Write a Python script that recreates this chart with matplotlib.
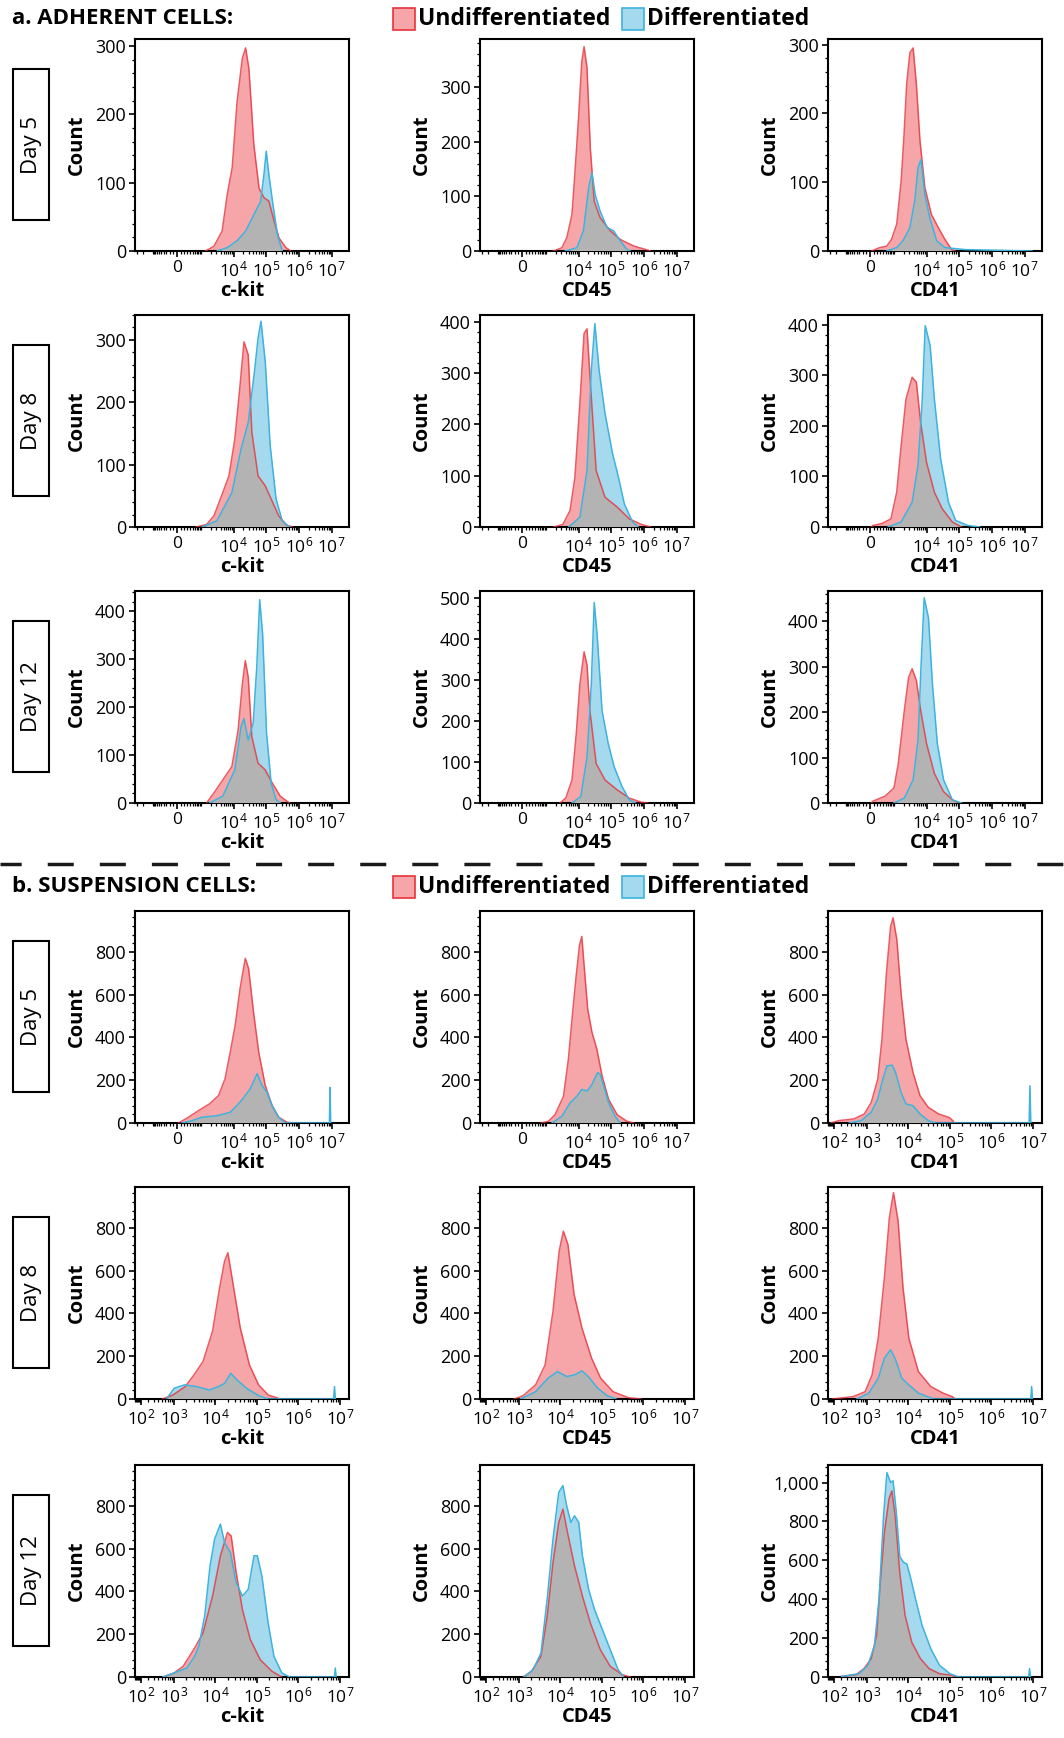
import numpy as np
import matplotlib
matplotlib.use("Agg")
import matplotlib.pyplot as plt
from matplotlib.patches import Rectangle
from matplotlib.lines import Line2D
from matplotlib.ticker import MultipleLocator, AutoMinorLocator, FuncFormatter

plt.rcParams['font.family'] = ['Open Sans', 'DejaVu Sans']
plt.rcParams['mathtext.fontset'] = 'custom'
plt.rcParams['mathtext.rm'] = 'Open Sans'
plt.rcParams['mathtext.bf'] = 'Open Sans:bold'

# x values are log10 of fluorescence intensity, y values are event counts
# ---- a. adherent cells ----
a_d5_ckit_und_x = [3.14, 3.40, 3.65, 3.81, 3.96, 4.11, 4.27, 4.37, 4.47, 4.62, 4.78, 4.93, 5.08, 5.24, 5.39, 5.60, 5.75]
a_d5_ckit_und_y = [0, 7, 29, 83, 122, 219, 282, 297, 267, 156, 92, 78, 73, 44, 19, 5, 0]
a_d5_ckit_dif_x = [3.50, 3.81, 4.11, 4.37, 4.62, 4.83, 4.93, 5.00, 5.08, 5.19, 5.34, 5.49]
a_d5_ckit_dif_y = [0, 5, 15, 29, 53, 73, 112, 146, 112, 73, 24, 0]

a_d5_cd45_und_x = [3.23, 3.49, 3.64, 3.80, 3.90, 4.00, 4.10, 4.17, 4.26, 4.36, 4.48, 4.66, 4.97, 5.28, 5.69, 6.04, 6.20]
a_d5_cd45_und_y = [0, 6, 24, 67, 152, 243, 347, 374, 335, 189, 91, 61, 37, 21, 9, 3, 0]
a_d5_cd45_dif_x = [3.59, 3.95, 4.15, 4.31, 4.41, 4.51, 4.66, 4.87, 5.07, 5.28, 5.48, 5.58]
a_d5_cd45_dif_y = [0, 6, 37, 116, 143, 103, 73, 43, 37, 18, 3, 0]

a_d5_cd41_und_x = [1.64, 2.45, 2.74, 2.91, 3.08, 3.22, 3.31, 3.39, 3.49, 3.59, 3.69, 3.80, 3.95, 4.15, 4.36, 4.56, 4.77, 4.87]
a_d5_cd41_und_y = [0, 5, 7, 17, 39, 102, 169, 242, 288, 295, 242, 160, 92, 53, 34, 17, 2, 0]
a_d5_cd41_dif_x = [2.74, 3.08, 3.28, 3.49, 3.64, 3.74, 3.83, 3.95, 4.10, 4.31, 4.56, 5.18, 6.20, 7.22]
a_d5_cd41_dif_y = [0, 5, 15, 34, 73, 121, 133, 82, 48, 15, 5, 2, 1, 0]

a_d8_ckit_und_x = [2.83, 3.17, 3.40, 3.67, 3.86, 4.04, 4.19, 4.32, 4.45, 4.56, 4.75, 4.97, 5.15, 5.38, 5.62, 5.80]
a_d8_ckit_und_y = [0, 4, 18, 55, 82, 141, 222, 297, 276, 152, 82, 66, 45, 18, 3, 0]
a_d8_ckit_dif_x = [3.03, 3.49, 3.95, 4.23, 4.45, 4.64, 4.75, 4.84, 4.97, 5.12, 5.30, 5.49, 5.71]
a_d8_ckit_dif_y = [0, 10, 55, 125, 168, 249, 303, 330, 265, 131, 45, 10, 0]

a_d8_cd45_und_x = [3.24, 3.52, 3.74, 3.89, 4.04, 4.17, 4.26, 4.37, 4.54, 4.81, 5.18, 5.55, 5.92, 6.20]
a_d8_cd45_und_y = [0, 5, 32, 97, 240, 377, 386, 273, 110, 58, 39, 16, 5, 0]
a_d8_cd45_dif_x = [3.70, 4.04, 4.26, 4.39, 4.50, 4.63, 4.81, 5.04, 5.22, 5.40, 5.65, 5.83]
a_d8_cd45_dif_y = [0, 19, 110, 305, 396, 305, 221, 143, 97, 45, 10, 0]

a_d8_cd41_und_x = [1.6, 1.9, 2.55, 2.89, 3.08, 3.22, 3.37, 3.56, 3.69, 3.82, 4.00, 4.24, 4.48, 4.79, 5.07]
a_d8_cd41_und_y = [0, 3, 7, 16, 69, 161, 253, 296, 286, 207, 128, 69, 36, 10, 0]
a_d8_cd41_dif_x = [2.79, 3.22, 3.56, 3.74, 3.87, 3.96, 4.11, 4.24, 4.43, 4.67, 4.89, 5.26, 5.63]
a_d8_cd41_dif_y = [0, 10, 49, 122, 253, 398, 359, 253, 135, 49, 13, 3, 0]

a_d12_ckit_und_x = [3.17, 3.40, 3.67, 3.95, 4.14, 4.27, 4.36, 4.45, 4.56, 4.75, 4.97, 5.19, 5.43, 5.71]
a_d12_ckit_und_y = [0, 21, 48, 76, 152, 248, 297, 262, 138, 83, 69, 41, 14, 0]
a_d12_ckit_dif_x = [3.26, 3.67, 4.04, 4.23, 4.32, 4.45, 4.60, 4.71, 4.80, 4.89, 5.01, 5.15, 5.30, 5.43]
a_d12_ckit_dif_y = [0, 14, 69, 159, 176, 131, 166, 283, 424, 352, 145, 41, 7, 0]

a_d12_cd45_und_x = [3.43, 3.61, 3.80, 3.93, 4.04, 4.17, 4.26, 4.35, 4.54, 4.81, 5.18, 5.55, 5.92, 6.11]
a_d12_cd45_und_y = [0, 12, 56, 168, 288, 368, 336, 224, 96, 56, 32, 12, 2, 0]
a_d12_cd45_dif_x = [3.80, 4.07, 4.26, 4.39, 4.48, 4.57, 4.72, 4.91, 5.09, 5.33, 5.55, 5.74]
a_d12_cd45_dif_y = [0, 16, 112, 288, 488, 408, 224, 144, 88, 40, 8, 0]

a_d12_cd41_und_x = [1.6, 1.9, 2.68, 2.99, 3.13, 3.32, 3.45, 3.56, 3.69, 3.82, 4.00, 4.24, 4.52, 4.79, 4.98]
a_d12_cd41_und_y = [0, 4, 15, 33, 87, 204, 276, 295, 269, 204, 131, 65, 25, 7, 0]
a_d12_cd41_dif_x = [2.99, 3.32, 3.59, 3.74, 3.83, 3.93, 4.06, 4.18, 4.33, 4.52, 4.79, 5.07]
a_d12_cd41_dif_y = [0, 11, 51, 138, 298, 451, 407, 262, 131, 51, 7, 0]

# ---- b. suspension cells ----
b_d5_ckit_und_x = [1.64, 2.53, 2.91, 3.26, 3.54, 3.74, 3.90, 4.05, 4.20, 4.36, 4.46, 4.61, 4.77, 4.97, 5.18, 5.38, 5.64, 5.84]
b_d5_ckit_und_y = [0, 27, 58, 89, 128, 206, 331, 456, 628, 769, 722, 519, 331, 175, 81, 27, 3, 0]
b_d5_ckit_dif_x = [2.13, 2.68, 3.02, 3.49, 3.90, 4.20, 4.51, 4.72, 4.87, 5.02, 5.18, 5.38, 5.58, 6.93, 6.95, 6.97]
b_d5_ckit_dif_y = [0, 11, 27, 34, 50, 97, 159, 230, 175, 144, 81, 27, 0, 0, 166, 0]

b_d5_cd45_und_x = [2.83, 3.07, 3.28, 3.54, 3.69, 3.83, 3.93, 4.03, 4.10, 4.17, 4.28, 4.41, 4.56, 4.72, 4.92, 5.18, 5.48, 5.69]
b_d5_cd45_und_y = [0, 8, 39, 125, 298, 533, 690, 831, 871, 737, 533, 424, 345, 220, 110, 39, 8, 0]
b_d5_cd45_dif_x = [3.18, 3.49, 3.74, 3.95, 4.10, 4.26, 4.41, 4.58, 4.66, 4.77, 4.92, 5.12, 5.28]
b_d5_cd45_dif_y = [0, 31, 94, 125, 157, 149, 180, 235, 227, 173, 94, 31, 0]

b_d5_cd41_und_x = [1.8, 2.2, 2.66, 2.93, 3.10, 3.26, 3.36, 3.47, 3.57, 3.63, 3.72, 3.82, 3.94, 4.11, 4.28, 4.48, 4.73, 4.98, 5.07, 5.11]
b_d5_cd41_und_y = [0, 11, 19, 42, 96, 205, 391, 702, 919, 958, 857, 609, 391, 236, 127, 73, 42, 26, 11, 0]
b_d5_cd41_dif_x = [2.54, 2.85, 3.10, 3.26, 3.36, 3.48, 3.61, 3.69, 3.82, 3.94, 4.11, 4.28, 4.48, 4.65, 6.91, 6.93, 6.95]
b_d5_cd41_dif_y = [0, 11, 50, 112, 189, 267, 270, 236, 143, 89, 81, 42, 11, 0, 0, 174, 0]

b_d8_ckit_und_x = [2.71, 2.97, 3.27, 3.48, 3.70, 3.93, 4.10, 4.22, 4.30, 4.40, 4.60, 4.82, 5.04, 5.27, 5.57]
b_d8_ckit_und_y = [0, 19, 58, 112, 175, 316, 519, 644, 683, 566, 331, 159, 66, 19, 0]
b_d8_ckit_dif_x = [2.81, 3.00, 3.25, 3.55, 3.85, 4.07, 4.22, 4.37, 4.52, 4.75, 5.04, 5.27, 6.85, 6.87, 6.89]
b_d8_ckit_dif_y = [0, 50, 66, 58, 42, 58, 73, 120, 89, 50, 16, 0, 0, 58, 0]

b_d8_cd45_und_x = [2.88, 3.10, 3.40, 3.63, 3.82, 3.97, 4.07, 4.18, 4.33, 4.52, 4.75, 4.97, 5.27, 5.64, 5.94]
b_d8_cd45_und_y = [0, 16, 66, 159, 409, 691, 784, 722, 488, 331, 191, 97, 34, 6, 0]
b_d8_cd45_dif_x = [3.03, 3.40, 3.70, 3.93, 4.15, 4.33, 4.52, 4.67, 4.90, 5.12, 5.34]
b_d8_cd45_dif_y = [0, 34, 97, 128, 105, 112, 131, 105, 50, 16, 0]

b_d8_cd41_und_x = [1.89, 2.64, 2.95, 3.12, 3.27, 3.42, 3.54, 3.64, 3.75, 3.87, 4.01, 4.24, 4.54, 4.84, 5.06, 5.13]
b_d8_cd41_und_y = [0, 11, 34, 112, 284, 566, 847, 964, 831, 519, 284, 128, 58, 27, 11, 0]
b_d8_cd41_dif_x = [2.74, 3.04, 3.27, 3.42, 3.57, 3.69, 3.84, 4.01, 4.24, 4.46, 4.61, 6.95, 6.97, 6.99]
b_d8_cd41_dif_y = [0, 27, 97, 191, 230, 183, 97, 66, 27, 11, 0, 0, 58, 0]

b_d12_ckit_und_x = [2.72, 3.00, 3.22, 3.50, 3.70, 3.93, 4.12, 4.29, 4.38, 4.50, 4.65, 4.84, 5.08, 5.36, 5.60]
b_d12_ckit_und_y = [0, 19, 50, 136, 206, 378, 566, 675, 659, 488, 316, 175, 81, 27, 0]
b_d12_ckit_dif_x = [2.72, 3.00, 3.31, 3.50, 3.60, 3.74, 3.87, 3.98, 4.12, 4.22, 4.36, 4.50, 4.65, 4.79, 4.93,
                    5.01, 5.12, 5.27, 5.41, 5.60, 5.79, 6.87, 6.89, 6.91]
b_d12_ckit_dif_y = [0, 19, 42, 97, 144, 284, 519, 644, 714, 628, 581, 441, 378, 409, 566,
                    566, 472, 253, 97, 19, 0, 0, 42, 0]

b_d12_cd45_und_x = [3.10, 3.30, 3.53, 3.68, 3.82, 3.96, 4.06, 4.17, 4.34, 4.53, 4.72, 4.96, 5.20, 5.49, 5.68]
b_d12_cd45_und_y = [0, 27, 97, 284, 534, 722, 784, 675, 519, 378, 253, 128, 50, 11, 0]
b_d12_cd45_dif_x = [3.12, 3.34, 3.53, 3.68, 3.82, 3.96, 4.06, 4.15, 4.25, 4.34, 4.44, 4.53, 4.68, 4.82, 5.01, 5.20, 5.39, 5.53]
b_d12_cd45_dif_y = [0, 34, 112, 363, 644, 863, 894, 800, 722, 753, 722, 566, 409, 316, 222, 128, 34, 0]

b_d12_cd41_und_x = [2.31, 2.72, 2.92, 3.10, 3.23, 3.32, 3.42, 3.53, 3.60, 3.68, 3.79, 3.92, 4.08, 4.29, 4.50, 4.75, 5.04, 5.13]
b_d12_cd41_und_y = [3, 12, 43, 94, 214, 487, 744, 915, 957, 829, 538, 316, 179, 94, 43, 17, 9, 0]
b_d12_cd41_dif_x = [2.31, 2.80, 3.02, 3.18, 3.29, 3.40, 3.48, 3.57, 3.63, 3.71, 3.79, 3.88, 3.96, 4.04, 4.17,
                    4.33, 4.54, 4.75, 5.00, 5.21, 6.90, 6.92, 6.94]
b_d12_cd41_dif_y = [3, 17, 60, 162, 402, 829, 1051, 1000, 1009, 840, 620, 590, 581, 521, 402,
                    265, 145, 60, 17, 0, 0, 43, 0]

days = ['Day 5', 'Day 8', 'Day 12']
markers = ['c-kit', 'CD45', 'CD41']
a_ytop = [[310, 388, 308], [340, 413, 419], [442, 516, 466]]
b_ytop = [[990, 990, 990], [990, 990, 990], [990, 990, 1090]]

PINK = '#f6a6a9'
LBLUE = '#a5d9ed'
GREY = '#b3b3b3'
RED = '#e8323c'
BLUE = '#3db3de'

LN10 = np.log(10)


def scale_funcs(c):
    # arcsinh display, like the biexponential axes of flow software
    return (lambda x: np.arcsinh(np.asarray(x, float) / c) / LN10,
            lambda p: c * np.sinh(np.asarray(p, float) * LN10))


W, H = 1064, 1738
fig = plt.figure(figsize=(W / 100, H / 100), dpi=100)
col_left = [135, 480, 828]
row_top = [39, 315, 591, 911, 1187, 1465]
AW, AH = 214, 212


def draw_panel(r, c, und_x, und_y, dif_x, dif_y, ytop, ystep, kind):
    ax = fig.add_axes([col_left[c] / W, 1 - (row_top[r] + AH) / H, AW / W, AH / H])
    if kind == 'biex':
        ax.set_xscale('function', functions=scale_funcs(372))
        ax.set_xlim(-3534, 3.38e7)
        major = [0, 1e4, 1e5, 1e6, 1e7]
        labels = ['0'] + [r'$\mathregular{10^{%d}}$' % n for n in range(4, 8)]
        minor = [s * k * 10.0 ** n for s in (-1, 1) for n in range(2, 7) for k in range(1, 10)]
    else:
        ax.set_xscale('function', functions=scale_funcs(200))
        ax.set_xlim(28, 1.66e7)
        major = [10.0 ** n for n in range(2, 8)]
        labels = [r'$\mathregular{10^{%d}}$' % n for n in range(2, 8)]
        minor = [k * 10.0 ** n for n in range(1, 7) for k in range(2, 10)]
    lo, hi = ax.get_xlim()
    minor = [m for m in minor if lo < m < hi and m not in major]

    ux = 10.0 ** np.asarray(und_x)
    dx = 10.0 ** np.asarray(dif_x)
    red = ax.fill_between(ux, und_y, color=PINK, lw=0, zorder=1)
    ax.fill_between(dx, dif_y, color=LBLUE, lw=0, zorder=2)
    both = ax.fill_between(dx, dif_y, color=GREY, lw=0, zorder=3)
    both.set_clip_path(red.get_paths()[0], ax.transData)
    ax.plot(ux, und_y, color=RED, lw=1.1, alpha=0.8, zorder=4)
    ax.plot(dx, dif_y, color=BLUE, lw=1.1, zorder=5)

    ax.set_xticks(major, labels)
    ax.set_xticks(minor, minor=True)
    ax.set_ylim(0, ytop)
    ax.yaxis.set_major_locator(MultipleLocator(ystep))
    ax.yaxis.set_minor_locator(AutoMinorLocator(5))
    ax.yaxis.set_major_formatter(FuncFormatter(lambda v, p: '{:,.0f}'.format(v)))
    ax.tick_params(which='major', direction='out', length=4.5, width=1.2, pad=2)
    ax.tick_params(which='minor', direction='out', length=2.2, width=0.9)
    ax.tick_params(axis='x', labelsize=12.5)
    ax.tick_params(axis='y', labelsize=13)
    for sp in ax.spines.values():
        sp.set_linewidth(1.5)
    ax.set_xlabel(markers[c], fontsize=14.5, fontweight='bold')
    ax.xaxis.set_label_coords(0.5, -0.14)
    ax.set_ylabel('Count', fontsize=14.5, fontweight='bold')
    ax.yaxis.set_label_coords(-0.225, 0.5)
    return ax


a_panels = [
    [(a_d5_ckit_und_x, a_d5_ckit_und_y, a_d5_ckit_dif_x, a_d5_ckit_dif_y),
     (a_d5_cd45_und_x, a_d5_cd45_und_y, a_d5_cd45_dif_x, a_d5_cd45_dif_y),
     (a_d5_cd41_und_x, a_d5_cd41_und_y, a_d5_cd41_dif_x, a_d5_cd41_dif_y)],
    [(a_d8_ckit_und_x, a_d8_ckit_und_y, a_d8_ckit_dif_x, a_d8_ckit_dif_y),
     (a_d8_cd45_und_x, a_d8_cd45_und_y, a_d8_cd45_dif_x, a_d8_cd45_dif_y),
     (a_d8_cd41_und_x, a_d8_cd41_und_y, a_d8_cd41_dif_x, a_d8_cd41_dif_y)],
    [(a_d12_ckit_und_x, a_d12_ckit_und_y, a_d12_ckit_dif_x, a_d12_ckit_dif_y),
     (a_d12_cd45_und_x, a_d12_cd45_und_y, a_d12_cd45_dif_x, a_d12_cd45_dif_y),
     (a_d12_cd41_und_x, a_d12_cd41_und_y, a_d12_cd41_dif_x, a_d12_cd41_dif_y)],
]
b_panels = [
    [(b_d5_ckit_und_x, b_d5_ckit_und_y, b_d5_ckit_dif_x, b_d5_ckit_dif_y),
     (b_d5_cd45_und_x, b_d5_cd45_und_y, b_d5_cd45_dif_x, b_d5_cd45_dif_y),
     (b_d5_cd41_und_x, b_d5_cd41_und_y, b_d5_cd41_dif_x, b_d5_cd41_dif_y)],
    [(b_d8_ckit_und_x, b_d8_ckit_und_y, b_d8_ckit_dif_x, b_d8_ckit_dif_y),
     (b_d8_cd45_und_x, b_d8_cd45_und_y, b_d8_cd45_dif_x, b_d8_cd45_dif_y),
     (b_d8_cd41_und_x, b_d8_cd41_und_y, b_d8_cd41_dif_x, b_d8_cd41_dif_y)],
    [(b_d12_ckit_und_x, b_d12_ckit_und_y, b_d12_ckit_dif_x, b_d12_ckit_dif_y),
     (b_d12_cd45_und_x, b_d12_cd45_und_y, b_d12_cd45_dif_x, b_d12_cd45_dif_y),
     (b_d12_cd41_und_x, b_d12_cd41_und_y, b_d12_cd41_dif_x, b_d12_cd41_dif_y)],
]
b_kind = [['biex', 'biex', 'log'], ['log', 'log', 'log'], ['log', 'log', 'log']]

for i in range(3):
    for j in range(3):
        draw_panel(i, j, *a_panels[i][j], a_ytop[i][j], 100, 'biex')
        draw_panel(i + 3, j, *b_panels[i][j], b_ytop[i][j], 200, b_kind[i][j])

# row labels in boxes
for r in range(6):
    cy = row_top[r] + AH / 2
    fig.add_artist(Rectangle((13 / W, 1 - (cy + 75) / H), 36 / W, 151 / H,
                             transform=fig.transFigure, fill=False, lw=1.5, ec='black'))
    fig.text(31 / W, 1 - cy / H, days[r % 3], rotation=90, ha='center', va='center', fontsize=16)


def header(y, title):
    fig.text(12 / W, 1 - y / H, title, fontsize=16, fontweight='bold', ha='left', va='center')
    for x0, fc, ec, lab in [(393, PINK, RED, 'Undifferentiated'), (622, LBLUE, BLUE, 'Differentiated')]:
        fig.add_artist(Rectangle((x0 / W, 1 - (y + 11) / H), 22 / W, 22 / H, transform=fig.transFigure,
                                 facecolor=fc, edgecolor=ec, lw=1.2))
        fig.text((x0 + 25) / W, 1 - y / H, lab, fontsize=16.5, fontweight='bold', ha='left', va='center')


header(19, 'a. ADHERENT CELLS:')
header(887, 'b. SUSPENSION CELLS:')

fig.add_artist(Line2D([0, 1], [1 - 864 / H] * 2, transform=fig.transFigure, color='#1a1a1a',
                      lw=2.5, linestyle=(1.4, (7.5, 7.5))))

fig.savefig('out.png', dpi=100)
